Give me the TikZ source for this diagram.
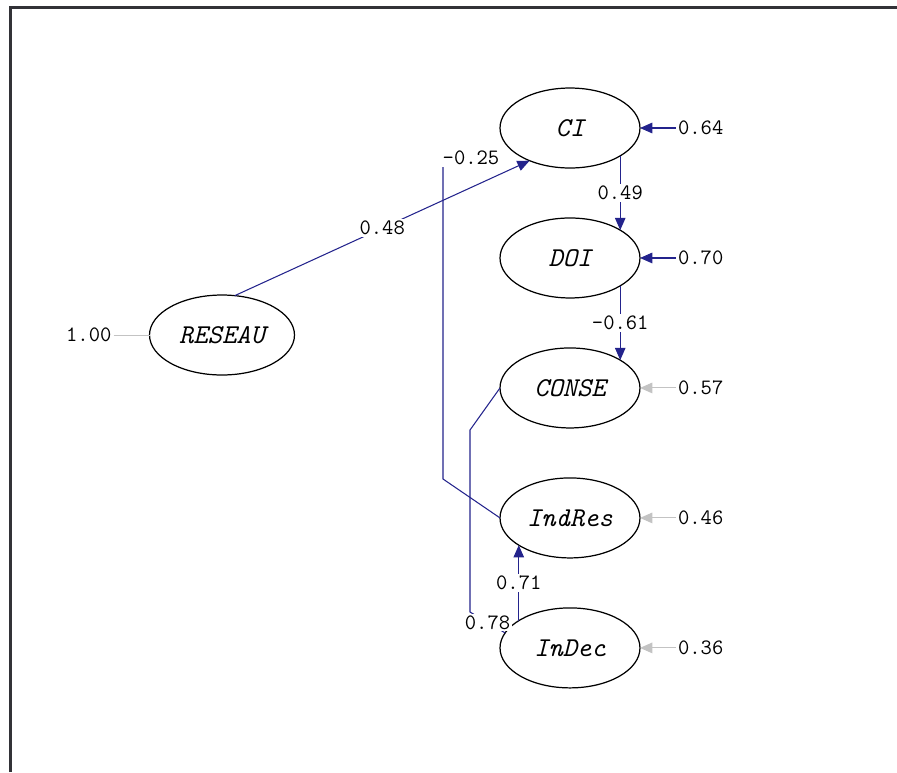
\documentclass[tikz,border=0pt]{standalone}
\usetikzlibrary{arrows.meta, positioning, shapes.geometric}
\definecolor{pathblue}{RGB}{35,35,140}
\definecolor{errgray}{RGB}{195,195,195}
\definecolor{framegray}{RGB}{50,50,55}

\begin{document}
\begin{tikzpicture}[
  x=0.02cm, y=-0.02cm,
  latent/.style={ellipse, draw, line width=0.7pt, minimum width=2.8cm, minimum height=1.6cm, inner sep=0pt, outer sep=0pt, font=\fontsize{15.5}{17}\selectfont\ttfamily\itshape},
  coef/.style={inner sep=1pt, fill=white, text=black, font=\fontsize{12.5}{14}\selectfont\ttfamily},
  errlab/.style={inner sep=1pt, font=\fontsize{12.5}{14}\selectfont\ttfamily},
  arrow/.style={-{Triangle[length=7pt,width=6pt]}, pathblue, line width=0.6pt},
  link/.style={pathblue, line width=0.6pt},
  errblue/.style={-{Triangle[length=7pt,width=6pt]}, pathblue, line width=0.6pt},
  errgrey/.style={-{Triangle[length=7pt,width=6pt]}, errgray, line width=0.6pt},
  errline/.style={errgray, line width=0.5pt}
]

% ------------------------------------------------------------
% Frame
% ------------------------------------------------------------

\useasboundingbox (0,0) rectangle (897,772);
\draw[framegray, line width=1.7pt] (10.5,772) -- (10.5,7.5) -- (897,7.5);

% ------------------------------------------------------------
% Latent variables
% ------------------------------------------------------------

\node[latent] (ci) at (570,128) {CI};
\node[latent, below=1cm of ci] (doi) {DOI};
\node[latent, below=1cm of doi] (conse) {CONSE};
\node[latent, below=1cm of conse] (indres) {IndRes};
\node[latent, below=1cm of indres] (indec) {InDec};

\node[latent, minimum width=2.9cm] (reseau) at (222,335) {RESEAU};

% ------------------------------------------------------------
% Error terms
% ------------------------------------------------------------

\node[errlab, right=0.72cm of ci] (eci) {0.64};
\node[errlab, right=0.72cm of doi] (edoi) {0.70};
\node[errlab, right=0.72cm of conse] (econse) {0.57};
\node[errlab, right=0.72cm of indres] (eindres) {0.46};
\node[errlab, right=0.72cm of indec] (eindec) {0.36};
\node[errlab, left=0.72cm of reseau] (ereseau) {1.00};

\draw[errblue] (eci) -- (ci);
\draw[errblue] (edoi) -- (doi);
\draw[errgrey] (econse) -- (conse);
\draw[errgrey] (eindres) -- (indres);
\draw[errgrey] (eindec) -- (indec);
\draw[errline] (ereseau) -- (reseau);

% ------------------------------------------------------------
% Paths
% ------------------------------------------------------------

\draw[arrow] (reseau.72) -- node[coef] (l048) {0.48} (ci.-141);
\draw[arrow] (ci.-29) -- node[coef] (l049) {0.49} (doi.29);
\draw[arrow] (doi.-29) -- node[coef] (l061) {-0.61} (conse.29);
\draw[arrow] (indec.152) -- node[coef] (l071) {0.71} (indres.-152);

\node[coef] (l025) at (471,158) {-0.25};
\coordinate (bendres) at (443,479);
\draw[link] (indres.west) -- (bendres) -- (bendres |- l025.south);

\coordinate (bendcon) at (470,430);
\coordinate (bendlow) at (470,612);
\draw[link] (conse.west) -- (bendcon) -- (bendlow) -- node[coef] (l078) {0.78} (indec.167);

\end{tikzpicture}
\end{document}
